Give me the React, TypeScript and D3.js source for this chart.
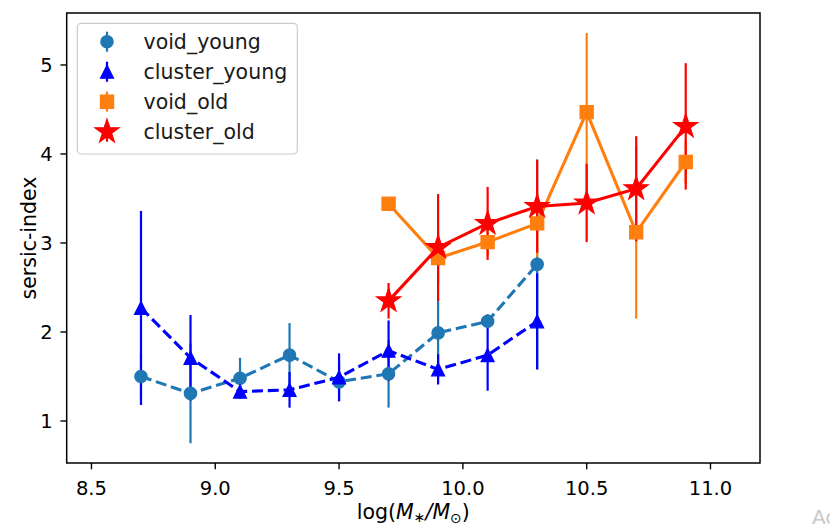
import React from "react";
import * as d3 from "d3";

const youngMass = [8.7, 8.9, 9.1, 9.3, 9.5, 9.7, 9.9, 10.1, 10.3];
const voidYoung = [1.5, 1.31, 1.48, 1.74, 1.44, 1.53, 1.99, 2.12, 2.76];
const voidYoungErr = [0.25, 0.56, 0.23, 0.36, 0.21, 0.38, 0.39, 0.08, 1.18];
const clusterYoung = [2.27, 1.71, 1.33, 1.35, 1.49, 1.79, 1.58, 1.74, 2.12];
const clusterYoungErr = [1.09, 0.48, 0.08, 0.2, 0.27, 0.34, 0.17, 0.4, 0.54];

const oldMass = [9.7, 9.9, 10.1, 10.3, 10.5, 10.7, 10.9];
const voidOld = [3.44, 2.83, 3.01, 3.22, 4.47, 3.12, 3.91];
const voidOldErr = [0.05, 0.3, 0.15, 0.38, 0.89, 0.97, 0.25];
const clusterOld = [2.35, 2.95, 3.22, 3.41, 3.45, 3.61, 4.31];
const clusterOldErr = [0.2, 0.6, 0.41, 0.52, 0.44, 0.59, 0.71];

const xTicks = [8.5, 9.0, 9.5, 10.0, 10.5, 11.0];
const xTickLabels = ["8.5", "9.0", "9.5", "10.0", "10.5", "11.0"];
const yTicks = [1, 2, 3, 4, 5];
const yTickLabels = ["1", "2", "3", "4", "5"];

const seriesNames = ["void_young", "cluster_young", "void_old", "cluster_old"];

type Marker = "circle" | "triangle" | "square" | "star";

function markerPath(m: Marker): string {
  if (m === "circle") {
    const r = 6.2;
    return `M${r},0A${r},${r} 0 1,1 ${-r},0A${r},${r} 0 1,1 ${r},0Z`;
  }
  if (m === "triangle") {
    const s = 6.5;
    return `M0,${-s}L${-s},${s}L${s},${s}Z`;
  }
  if (m === "square") {
    const s = 6.6;
    return `M${-s},${-s}H${s}V${s}H${-s}Z`;
  }
  const ro = 12.6;
  const ri = ro * 0.381966;
  const pts: string[] = [];
  for (let i = 0; i < 10; i++) {
    const a = (Math.PI / 5) * i;
    const r = i % 2 === 0 ? ro : ri;
    pts.push(`${(r * Math.sin(a)).toFixed(2)},${(-r * Math.cos(a)).toFixed(2)}`);
  }
  return "M" + pts.join("L") + "Z";
}

const FONT = "DejaVu Sans, sans-serif";

export default function App() {
  const W = 830;
  const H = 527;
  const left = 66.7;
  const right = 760;
  const top = 13;
  const bottom = 463;

  const x = d3.scaleLinear().domain([8.4, 11.2]).range([left, right]);
  const y = d3.scaleLinear().domain([0.528, 5.584]).range([bottom, top]);

  const series = [
    { name: seriesNames[0], xs: youngMass, ys: voidYoung, err: voidYoungErr, color: "#1f77b4", marker: "circle" as Marker, dashed: true },
    { name: seriesNames[1], xs: youngMass, ys: clusterYoung, err: clusterYoungErr, color: "#0000ff", marker: "triangle" as Marker, dashed: true },
    { name: seriesNames[2], xs: oldMass, ys: voidOld, err: voidOldErr, color: "#ff7f0e", marker: "square" as Marker, dashed: false },
    { name: seriesNames[3], xs: oldMass, ys: clusterOld, err: clusterOldErr, color: "#ff0000", marker: "star" as Marker, dashed: false },
  ];

  const line = d3
    .line<[number, number]>()
    .x((d) => x(d[0]))
    .y((d) => y(d[1]));

  return (
    <svg
      width={W}
      height={H}
      style={{ position: "absolute", left: 0, top: 0, background: "#fff" }}
      fontFamily={FONT}
    >
      <rect x={0} y={0} width={W} height={H} fill="#fff" />
      {/* error bars first */}
      {series.map((s) => (
        <g key={s.name + "-err"}>
          {s.xs.map((xv, i) => (
            <line
              key={i}
              x1={x(xv)}
              x2={x(xv)}
              y1={y(s.ys[i] - s.err[i])}
              y2={y(s.ys[i] + s.err[i])}
              stroke={s.color}
              strokeWidth={2.2}
            />
          ))}
        </g>
      ))}
      {/* lines + markers */}
      {series.map((s) => (
        <g key={s.name + "-line"}>
          <path
            d={line(s.xs.map((xv, i) => [xv, s.ys[i]] as [number, number])) || ""}
            fill="none"
            stroke={s.color}
            strokeWidth={3.1}
            strokeDasharray={s.dashed ? "11,4.8" : undefined}
          />
          {s.xs.map((xv, i) => (
            <path
              key={i}
              d={markerPath(s.marker)}
              transform={`translate(${x(xv)},${y(s.ys[i])})`}
              fill={s.color}
              stroke={s.color}
              strokeWidth={1.2}
              strokeLinejoin="miter"
            />
          ))}
        </g>
      ))}
      {/* axes frame */}
      <rect x={left} y={top} width={right - left} height={bottom - top} fill="none" stroke="#000" strokeWidth={1.5} />
      {/* x ticks */}
      {xTicks.map((t, i) => (
        <g key={"xt" + i}>
          <line x1={x(t)} x2={x(t)} y1={bottom} y2={bottom + 6.3} stroke="#000" strokeWidth={1.4} />
          <text x={x(t)} y={bottom + 32} textAnchor="middle" fontSize={19.5} fill="#000">
            {xTickLabels[i]}
          </text>
        </g>
      ))}
      {/* y ticks */}
      {yTicks.map((t, i) => (
        <g key={"yt" + i}>
          <line x1={left - 6.3} x2={left} y1={y(t)} y2={y(t)} stroke="#000" strokeWidth={1.4} />
          <text x={left - 14} y={y(t)} dy="0.36em" textAnchor="end" fontSize={19.5} fill="#000">
            {yTickLabels[i]}
          </text>
        </g>
      ))}
      {/* axis labels */}
      <text x={(left + right) / 2} y={519} textAnchor="middle" fontSize={20.5} fill="#000">
        <tspan>log(</tspan>
        <tspan fontStyle="oblique">M</tspan>
        <tspan fontSize={14} dy={3}>∗</tspan>
        <tspan dy={-3} fontStyle="oblique">/M</tspan>
        <tspan fontSize={14} dy={4}>⊙</tspan>
        <tspan dy={-4}>)</tspan>
      </text>
      <text
        transform={`translate(36,${(top + bottom) / 2}) rotate(-90)`}
        textAnchor="middle"
        fontSize={20.5}
        fill="#000"
      >
        sersic-index
      </text>
      {/* faint watermark remnant at bottom-right */}
      <text x={812} y={524} fontSize={20} fill="#c8c8c8">
        Ac
      </text>
      {/* legend */}
      <g>
        <rect x={77.3} y={23.3} width={220} height={130.7} rx={4} fill="#fff" fillOpacity={0.8} stroke="#cccccc" strokeWidth={1.2} />
        {series.map((s, i) => {
          const cy = 41.7 + i * 30;
          return (
            <g key={"lg" + i}>
              <line x1={107} x2={107} y1={cy - 10} y2={cy + 10} stroke={s.color} strokeWidth={2.2} />
              <path d={markerPath(s.marker)} transform={`translate(107,${cy})`} fill={s.color} stroke={s.color} strokeWidth={1.2} />
              <text x={143.5} y={cy} dy="0.36em" fontSize={20.5} fill="#1a1a1a">
                {s.name}
              </text>
            </g>
          );
        })}
      </g>
    </svg>
  );
}
